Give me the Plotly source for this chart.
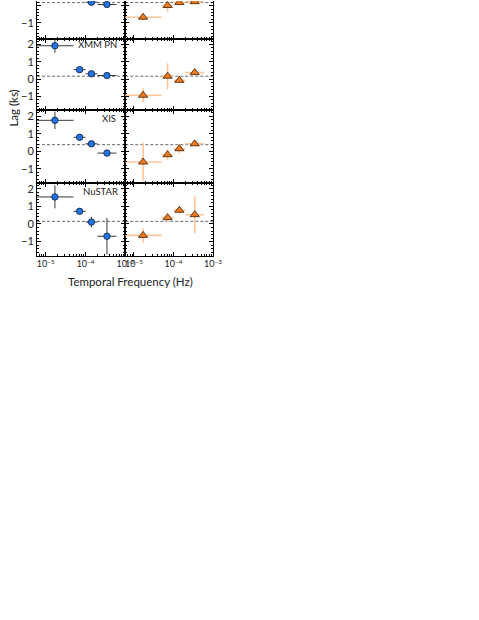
import plotly.graph_objects as go

# frequency bins (Hz)
freq = [1.7e-5, 7.1e-5, 1.41e-4, 3.46e-4]
freq_lo = [5.8e-6, 5.0e-5, 1.0e-4, 2.0e-4]
freq_hi = [5.0e-5, 1.0e-4, 2.0e-4, 6.0e-4]

instruments = ["", "XMM PN", "XIS", "NuSTAR"]

# left column (circles): lag and 1-sigma error, ks
lag_left = [
    [1.60, 0.80, 0.19, 0.06],
    [1.93, 0.55, 0.31, 0.21],
    [1.77, 0.80, 0.43, -0.10],
    [1.54, 0.72, 0.11, -0.70],
]
err_left = [
    [0.40, 0.12, 0.08, 0.08],
    [0.40, 0.10, 0.10, 0.08],
    [0.50, 0.15, 0.10, 0.10],
    [0.65, 0.15, 0.30, 1.05],
]
# right column (triangles)
lag_right = [
    [-0.67, 0.00, 0.17, 0.22],
    [-0.93, 0.17, -0.07, 0.38],
    [-0.61, -0.19, 0.15, 0.43],
    [-0.65, 0.36, 0.78, 0.53],
]
err_right = [
    [0.18, 0.35, 0.10, 0.08],
    [0.40, 0.75, 0.12, 0.10],
    [1.10, 0.30, 0.27, 0.10],
    [0.40, 0.25, 0.18, 1.05],
]
# dashed reference level per row
ref_lag = [0.17, 0.17, 0.38, 0.15]

W, H = 479, 620
col_px = [(37.7, 127.7), (127.7, 217.0)]
row_px = [(-35, 37.7), (37.7, 109.5), (109.5, 182.2), (182.2, 255.0)]
yr_main = [-1.8, 2.34]
yr_top = [-1.9, 0.26]

FONT = "Lato"
xerr_plus = [h - f for h, f in zip(freq_hi, freq)]
xerr_minus = [f - l for f, l in zip(freq, freq_lo)]

minor_x = [m * 10.0 ** e for e in range(-6, -2) for m in range(2, 10)]

fig = go.Figure()
layout = {}
shapes = []
for r in range(4):
    for c in range(2):
        k = r * 2 + c + 1
        xs = "" if k == 1 else str(k)
        top = max(row_px[r][0], 0)
        bot = row_px[r][1]
        if c == 0:
            y, e = lag_left[r], err_left[r]
            mk = dict(symbol="circle", size=6.5, color="#2373e0",
                      line=dict(color="#102040", width=0.8))
            ecol, ew = "#3a3a3a", 1
        else:
            y, e = lag_right[r], err_right[r]
            mk = dict(symbol="triangle-up", size=8, color="#f07a1e",
                      line=dict(color="#3a1a00", width=0.8))
            ecol, ew = "#ffc597", 1.6
        fig.add_trace(go.Scatter(
            x=freq, y=y, mode="markers", marker=mk,
            error_x=dict(type="data", array=xerr_plus, arrayminus=xerr_minus,
                         color=ecol, thickness=ew, width=0),
            error_y=dict(type="data", array=e, color=ecol, thickness=ew, width=0),
            xaxis="x" + xs, yaxis="y" + xs, showlegend=False))

        layout["xaxis" + xs] = dict(
            type="log", range=[-5.22, -3.0],
            domain=[col_px[c][0] / W, col_px[c][1] / W],
            anchor="y" + xs,
            showline=True, linecolor="black", linewidth=1,
            mirror=False if r == 0 else "allticks",
            ticks="inside", ticklen=4, tickcolor="black",
            tickvals=[1e-5, 1e-4, 1e-3],
            ticktext=["10<sup>−5</sup>", "10<sup>−4</sup>", "10<sup>−3</sup>"],
            showticklabels=(r == 3),
            minor=dict(ticks="inside", ticklen=2, tickvals=minor_x,
                       tickcolor="black", showgrid=False),
            showgrid=False, zeroline=False,
            tickfont=dict(family=FONT, size=9, color="#222"),
        )
        layout["yaxis" + xs] = dict(
            range=yr_top if r == 0 else yr_main,
            domain=[1 - bot / H, 1 - top / H],
            anchor="x" + xs,
            showline=True, linecolor="black", linewidth=1, mirror="allticks",
            ticks="inside", ticklen=4, tickcolor="black",
            tickvals=[-1, 0, 1, 2], ticktext=["−1", "0", "1", "2"],
            showticklabels=(c == 0),
            minor=dict(ticks="inside", ticklen=2, dtick=0.2, tick0=0,
                       tickcolor="black", showgrid=False),
            showgrid=False, zeroline=False,
            tickfont=dict(family=FONT, size=11, color="#222"),
        )
        shapes.append(dict(type="line", xref="x" + xs + " domain", yref="y" + xs,
                           x0=0, x1=1, y0=ref_lag[r], y1=ref_lag[r],
                           line=dict(color="#444", width=0.8, dash="3px,2px"),
                           layer="below"))

annotations = []
label_px = {1: (120, 44), 2: (119, 118), 3: (121, 191)}
for r, (px, py) in label_px.items():
    annotations.append(dict(text=instruments[r], x=px / W, y=1 - py / H,
                            xref="paper", yref="paper", xanchor="right",
                            yanchor="middle", showarrow=False, borderpad=0,
                            font=dict(family=FONT, size=9.5, color="#222")))
annotations.append(dict(text="Lag (ks)", x=14 / W, y=1 - 107 / H, xref="paper",
                        yref="paper", textangle=-90, showarrow=False,
                        xanchor="center", yanchor="middle",
                        font=dict(family=FONT, size=11.5, color="#222")))
annotations.append(dict(text="Temporal Frequency (Hz)", x=133 / W, y=1 - 281 / H,
                        xref="paper", yref="paper", showarrow=False,
                        xanchor="center", yanchor="middle",
                        font=dict(family=FONT, size=11.5, color="#222")))

fig.update_layout(
    width=W, height=H,
    margin=dict(l=0, r=0, t=0, b=0),
    paper_bgcolor="white", plot_bgcolor="white",
    shapes=shapes, annotations=annotations,
    **layout,
)

# the page's default 8px body margin would push the cropped top row down
fig.write_html("out.html", config={"displayModeBar": False},
               post_script="document.body.style.margin='0px';")
